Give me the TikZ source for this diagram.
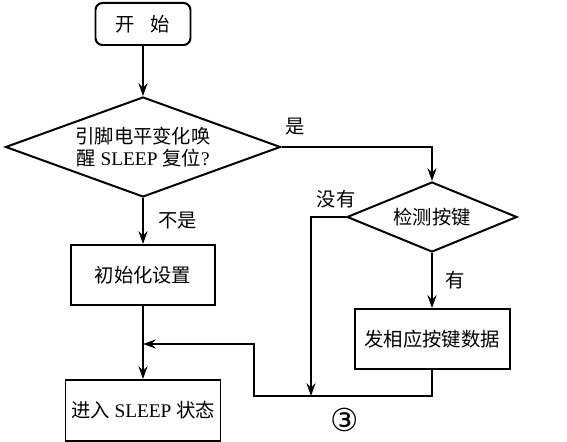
\documentclass[tikz,border=0pt]{standalone}
\usepackage{fontspec}
\setmainfont{Liberation Serif}
\newfontfamily\cjk{Noto Sans CJK SC}
\newfontfamily\symfont{DejaVu Sans}
\usetikzlibrary{arrows.meta,positioning,shapes.geometric}

\begin{document}
\begin{tikzpicture}[
  font=\fontsize{16.5pt}{19.5pt}\selectfont,
  line width=1.7pt,
  box/.style={draw, rectangle, minimum width=4.32cm, minimum height=1.8cm,
              inner sep=0pt, align=center},
  startbox/.style={draw, rounded corners=6pt, minimum width=2.85cm, minimum height=1.26cm},
  decide/.style={draw, diamond, inner sep=0pt, align=center},
  lbl/.style={inner sep=1pt},
  arr/.style={-{Stealth[length=3.8mm,width=2.7mm]}}]
\useasboundingbox (0,0) rectangle (17.01,-13.26);
% left column
\node[startbox] (start) at (4.29,-0.72) {\cjk 开\hspace{0.8em}始};
\node[decide, minimum width=8.25cm, minimum height=3cm, aspect=2.75, below=1.5cm of start] (wake)
  {{\cjk 引脚电平变化唤}\\{\cjk 醒} SLEEP {\cjk 复位}?};
\node[box, below=1.38cm of wake] (init) {\cjk 初始化设置};
\node[box, minimum width=4.65cm, minimum height=1.83cm, below=2.19cm of init] (sleep)
  {{\cjk 进入} SLEEP {\cjk 状态}};
% right column
\node[decide, minimum width=5.1cm, minimum height=2.1cm, aspect=2.43] (key) at (12.96,-6.51)
  {\cjk 检测按键};
\node[box, minimum width=4.65cm, below=1.65cm of key] (send) {\cjk 发相应按键数据};
\coordinate (bend) at (7.62,-11.88);
\coordinate (join) at (9.33,-11.88);
\coordinate (back) at (4.29,-10.32);
% connectors
\draw[arr] (start) -- (wake);
\draw[arr] (wake) -- node[lbl, right=0.4cm] (no) {\cjk 不是} (init);
\draw[arr] (init) -- (sleep);
\draw[arr] (wake.east) -| (key.north);
\node[lbl, above right=0.28cm and 0.05cm of wake.east] (yes) {\cjk 是};
\draw[arr] (key) -- node[lbl, right=0.35cm] (has) {\cjk 有} (send);
\draw[arr] (key.west) -| (join);
\node[lbl, above=0.2cm of key.west, xshift=-0.3cm] (none) {\cjk 没有};
\draw[arr] (send.south) |- (bend) |- (back);
\node[lbl, font=\symfont\fontsize{27pt}{29pt}\selectfont] (three) at (10.35,-12.6) {③};
\end{tikzpicture}
\end{document}
